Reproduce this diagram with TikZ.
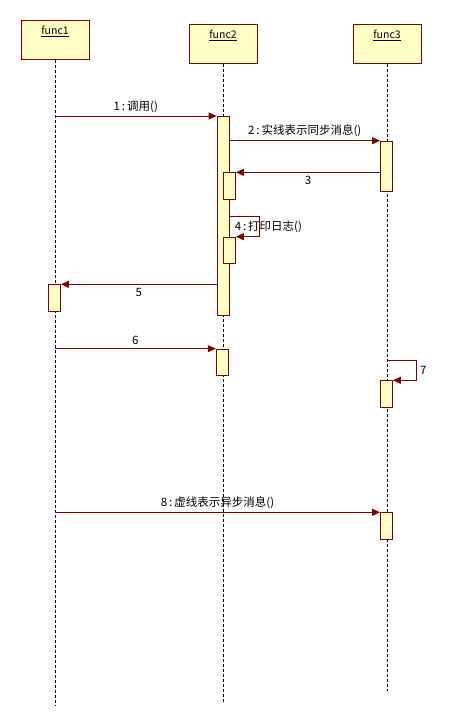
\documentclass[tikz,border=0pt]{standalone}
\usepackage{fontspec}
\setmainfont{Noto Sans CJK SC}
\usetikzlibrary{arrows.meta, positioning, calc}
\definecolor{actfill}{HTML}{FFFFC6}
\definecolor{actline}{HTML}{800000}
\definecolor{msgcolor}{HTML}{800000}

\begin{document}
\begin{tikzpicture}[x=1pt, y=-1pt,
    every node/.style={font=\fontsize{11.5}{13}\selectfont},
    head/.style={draw=actline, fill=actfill, line width=0.8pt,
                 minimum width=68pt, minimum height=39pt, inner sep=0pt},
    act/.style={draw=actline, fill=actfill, line width=0.8pt,
                minimum width=12pt, inner sep=0pt, anchor=north},
    life/.style={black, line width=0.7pt, dash pattern=on 3pt off 2pt},
    msg/.style={draw=msgcolor, line width=0.8pt,
                -{Triangle[length=8pt, width=7pt]}}
]
    \useasboundingbox (0,0) rectangle (448,728);

    % lifeline heads
    \node[head, anchor=north, label={[anchor=north, inner sep=6pt, font=\fontsize{10.5}{12}\selectfont]north:\underline{func1}}]
          (f1) at (55,20) {};
    \node[head, anchor=north, label={[anchor=north, inner sep=6pt, font=\fontsize{10.5}{12}\selectfont]north:\underline{func2}}]
          (f2) at (223,24) {};
    \node[head, anchor=north, label={[anchor=north, inner sep=6pt, font=\fontsize{10.5}{12}\selectfont]north:\underline{func3}}]
          (f3) at (387,24) {};

    \coordinate (f1end) at (55,705);
    \coordinate (f2end) at (223,703);
    \coordinate (f3end) at (387,691);
    \draw[life] (f1.south) -- (f1end);
    \draw[life] (f2.south) -- (f2end);
    \draw[life] (f3.south) -- (f3end);

    % activations
    \node[act, minimum height=199pt]  (a2)  at (223,116)   {};
    \node[act, minimum height=50.3pt] (a3)  at (386.5,140.7) {};
    \node[act, minimum height=27pt]   (a3b) at (229.5,172.3) {};
    \node[act, minimum height=26.6pt] (a4)  at (229.5,236.7) {};
    \node[act, minimum height=27pt]   (a5)  at (54.5,284.3)  {};
    \node[act, minimum height=26.6pt] (a6)  at (222.2,348.7) {};
    \node[act, minimum height=26.7pt] (a7)  at (386.5,380.3) {};
    \node[act, minimum height=27pt]   (a8)  at (386.5,512.3) {};

    % messages
    \draw[msg] (a2.north west -| f1) -- node[above] {1\,:\,调用()} (a2.north west);
    \draw[msg] (a3.north west -| a2.east) -- node[above] {2\,:\,实线表示同步消息()} (a3.north west);
    \draw[msg] (a3b.north east -| a3.west) -- node[below] {3} (a3b.north east);
    \draw[msg] ([yshift=20pt]a4.north -| a2.east) -- ++(30,0)
               |- node[pos=0.25, xshift=9pt] {4\,:\,打印日志()} (a4.north east);
    \draw[msg] (a5.north east -| a2.west) -- node[below] {5} (a5.north east);
    \draw[msg] (a6.north west -| f1) -- node[above] {6} (a6.north west);
    \draw[msg] ([yshift=20pt]a7.north) -- ++(30,0)
               |- node[pos=0.25, right] {7} (a7.north east);
    \draw[msg] (a8.north west -| f1) -- node[above] {8\,:\,虚线表示异步消息()} (a8.north west);
\end{tikzpicture}
\end{document}
